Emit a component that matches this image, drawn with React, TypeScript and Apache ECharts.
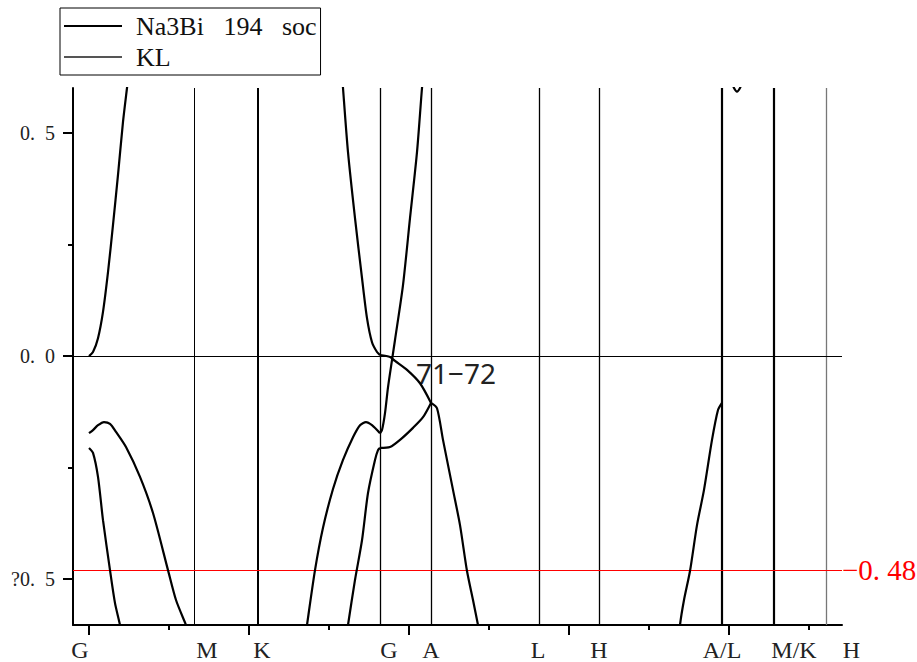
import React, { useEffect, useRef } from "react";
import * as echarts from "echarts";

const SERIF = "Liberation Serif";

// ---------- axes ----------
const yMin = -0.603;
const yMax = 0.601;
const yMajorTicks = [-0.5, 0, 0.5];
const yMajorLabels = ["?0. 5", "0. 0", "0. 5"];
const yMinorTicks = [-0.25, 0.25];

const xMin = -0.2;
const xMax = 9.4125;
const xLongTicks = [0, 2, 4, 6, 8];
const xShortTicks = [1, 3, 5, 7, 9];

// high-symmetry k-point lines (KL) and their labels
const kLinePos = [1.325, 2.1125, 3.6375, 4.275, 5.625, 6.375, 7.9125, 8.5625, 9.2125];
const kLineWidth = [1, 2, 1.3, 1.3, 1.3, 1.3, 2.2, 2.2, 1.3];
const kLineColor = ["#000", "#000", "#000", "#000", "#000", "#000", "#000", "#000", "#777"];
const kLabelNames = ["G", "M", "K", "G", "A", "L", "H", "A/L", "M/K", "H"];
const kLabelPos = [-0.1125, 1.475, 2.1625, 3.75, 4.275, 5.6125, 6.375, 7.9125, 8.8125, 9.53];

// reference levels
const fermiLevel = 0;
const redLevel = -0.485;
const redLabel = "−0. 48";

// annotation
const bandNote = "71−72";
const bandNoteAt = [4.0875, -0.039];

// ---------- bands (Na3Bi 194 soc) ----------
const bandG1 = [[0, 0], [0.05, 0.009], [0.1125, 0.04], [0.175, 0.099], [0.2375, 0.188], [0.3, 0.294], [0.3625, 0.406], [0.425, 0.525], [0.475, 0.601], [0.525, 0.675]];
const bandG2 = [[0, -0.173], [0.05, -0.166], [0.1125, -0.155], [0.1875, -0.148], [0.2625, -0.152], [0.3375, -0.17], [0.4625, -0.204], [0.6375, -0.271], [0.8, -0.352], [0.9875, -0.48], [1.0875, -0.547], [1.2125, -0.603], [1.3375, -0.659]];
const bandG3 = [[0, -0.206], [0.05, -0.217], [0.1125, -0.271], [0.175, -0.368], [0.2625, -0.48], [0.325, -0.554], [0.3875, -0.603], [0.4375, -0.655]];

const bandD1 = [[3.15, 0.664], [3.175, 0.601], [3.2375, 0.457], [3.325, 0.309], [3.4125, 0.175], [3.475, 0.085], [3.5375, 0.031], [3.6, 0.009], [3.6375, 0.002]];
const bandD2 = [[3.6375, 0.002], [3.7625, -0.002], [3.825, -0.011], [3.975, -0.031], [4.1375, -0.061], [4.275, -0.105]];
const bandE1 = [[3.2125, -0.637], [3.2375, -0.603], [3.325, -0.502], [3.4125, -0.413], [3.4875, -0.307], [3.575, -0.233], [3.6125, -0.211], [3.6375, -0.206]];
const bandE2 = [[3.6375, -0.206], [3.7625, -0.204], [3.8875, -0.188], [4.05, -0.161], [4.175, -0.137], [4.275, -0.105]];
const bandF1 = [[2.7, -0.637], [2.725, -0.603], [2.825, -0.48], [2.925, -0.385], [3.05, -0.298], [3.175, -0.233], [3.3, -0.182], [3.3875, -0.155], [3.4625, -0.148], [3.5375, -0.155], [3.6375, -0.173]];
const bandF2 = [[3.6375, -0.173], [3.6625, -0.166], [3.7, -0.128], [3.7375, -0.07], [3.7875, -0.009], [3.825, 0.036], [3.925, 0.159], [4.0125, 0.309], [4.1, 0.457], [4.1625, 0.601], [4.2, 0.675]];
const bandA1 = [[4.275, -0.105], [4.35, -0.117], [4.425, -0.188], [4.55, -0.3], [4.6375, -0.379], [4.725, -0.482], [4.8, -0.547], [4.8625, -0.603], [4.9, -0.637]];

const bandH1 = [[7.375, -0.637], [7.3875, -0.603], [7.4375, -0.547], [7.5125, -0.482], [7.6, -0.379], [7.6875, -0.3], [7.7875, -0.188], [7.8625, -0.121], [7.9125, -0.105]];
const bandL1 = [[8.025, 0.619], [8.0625, 0.601], [8.1, 0.593], [8.1375, 0.601], [8.175, 0.619]];

const bandSegments = [bandG1, bandG2, bandG3, bandD1, bandD2, bandE1, bandE2, bandF1, bandF2, bandA1, bandH1, bandL1];

const SERIES_MAIN = "Na3Bi 194 soc";
const SERIES_KL = "KL";

export default function App() {
  const ref = useRef<HTMLDivElement>(null);

  useEffect(() => {
    if (!ref.current) return;
    const chart = echarts.init(ref.current, undefined, { renderer: "svg" });

    const bandSeries = bandSegments.map((d) => ({
      name: SERIES_MAIN,
      type: "line",
      data: d,
      symbol: "none",
      showSymbol: false,
      smooth: 0.25,
      clip: true,
      silent: true,
      lineStyle: { color: "#000", width: 2.2 },
      itemStyle: { color: "#000" },
      z: 5,
    }));

    const option: any = {
      animation: false,
      backgroundColor: "#fff",
      textStyle: { fontFamily: SERIF },
      grid: { left: 73, right: 75, top: 88, bottom: 37 },
      legend: {
        show: true,
        orient: "vertical",
        left: 60,
        top: 8,
        itemWidth: 58,
        itemHeight: 14,
        itemGap: 1,
        padding: [3, 4, 3, 3],
        borderColor: "#000",
        borderWidth: 1,
        selectedMode: false,
        itemStyle: { opacity: 0 },
        data: [SERIES_MAIN, SERIES_KL],
        formatter: (n: string) => n.replace(/ /g, "   "),
        textStyle: { fontFamily: SERIF, fontSize: 26, color: "#111", lineHeight: 30, padding: [0, 0, 0, 9] },
      },
      xAxis: [
        {
          type: "value",
          min: xMin,
          max: xMax,
          position: "bottom",
          axisLine: { show: true, onZero: false, lineStyle: { color: "#000", width: 2 } },
          axisTick: { show: true, customValues: xLongTicks, length: 10, lineStyle: { color: "#000", width: 2 } },
          axisLabel: { show: false },
          splitLine: { show: false },
        },
        {
          type: "value",
          min: xMin,
          max: xMax,
          position: "bottom",
          axisLine: { show: false, onZero: false },
          axisTick: { show: true, customValues: xShortTicks, length: 5, lineStyle: { color: "#000", width: 2 } },
          axisLabel: { show: false },
          splitLine: { show: false },
        },
      ],
      yAxis: [
        {
          type: "value",
          min: yMin,
          max: yMax,
          position: "left",
          axisLine: { show: true, onZero: false, lineStyle: { color: "#000", width: 2 } },
          axisTick: { show: true, customValues: yMajorTicks, length: 10, lineStyle: { color: "#000", width: 2 } },
          axisLabel: {
            show: true,
            customValues: yMajorTicks,
            margin: 18,
            fontFamily: SERIF,
            fontSize: 20,
            color: "#222",
            formatter: (v: number) => {
              const i = yMajorTicks.findIndex((t) => Math.abs(t - v) < 1e-6);
              return i >= 0 ? yMajorLabels[i].replace(". ", ".  ") : "";
            },
          },
          splitLine: { show: false },
        },
        {
          type: "value",
          min: yMin,
          max: yMax,
          position: "left",
          axisLine: { show: false, onZero: false },
          axisTick: { show: true, customValues: yMinorTicks, length: 5, lineStyle: { color: "#000", width: 2 } },
          axisLabel: { show: false },
          splitLine: { show: false },
        },
      ],
      series: [
        {
          name: SERIES_KL,
          type: "line",
          data: [],
          symbol: "none",
          showSymbol: false,
          silent: true,
          lineStyle: { color: "#555", width: 1 },
          itemStyle: { color: "#555" },
          markLine: {
            silent: true,
            symbol: ["none", "none"],
            label: { show: false },
            data: kLinePos.map((x, i) => ({
              xAxis: x,
              lineStyle: { color: kLineColor[i], width: kLineWidth[i], type: "solid" },
            })),
          },
          z: 2,
        },
        {
          name: "levels",
          type: "line",
          data: [],
          symbol: "none",
          silent: true,
          markLine: {
            silent: true,
            symbol: ["none", "none"],
            data: [
              { yAxis: fermiLevel, lineStyle: { color: "#000", width: 1, type: "solid" }, label: { show: false } },
              {
                yAxis: redLevel,
                lineStyle: { color: "#ff0000", width: 1, type: "solid" },
                label: {
                  show: true,
                  position: "end",
                  distance: 0,
                  formatter: redLabel,
                  color: "#ff0000",
                  fontFamily: SERIF,
                  fontSize: 29,
                },
              },
            ],
          },
          z: 3,
        },
        ...bandSeries,
      ],
    };

    chart.setOption(option);

    const px = (v: number) => chart.convertToPixel({ xAxisIndex: 0 }, v) as number;
    const py = (v: number) => chart.convertToPixel({ yAxisIndex: 0 }, v) as number;
    const axisBottom = py(yMin);

    const graphics: any[] = kLabelNames.map((name, i) => ({
      type: "text",
      x: px(kLabelPos[i]),
      y: axisBottom + 25,
      silent: true,
      style: {
        text: name,
        fontFamily: SERIF,
        fontSize: 24,
        fill: "#222",
        align: "center",
        verticalAlign: "middle",
      },
    }));
    graphics.push({
      type: "text",
      x: px(bandNoteAt[0]),
      y: py(bandNoteAt[1]),
      silent: true,
      style: {
        text: bandNote,
        fontFamily: "Noto Sans",
        fontSize: 28,
        fill: "#222",
        align: "left",
        verticalAlign: "middle",
      },
    });
    chart.setOption({ graphic: graphics });

    return () => chart.dispose();
  }, []);

  return (
    <div
      ref={ref}
      style={{ position: "fixed", left: 0, top: 0, width: 917, height: 662, background: "#fff" }}
    />
  );
}
